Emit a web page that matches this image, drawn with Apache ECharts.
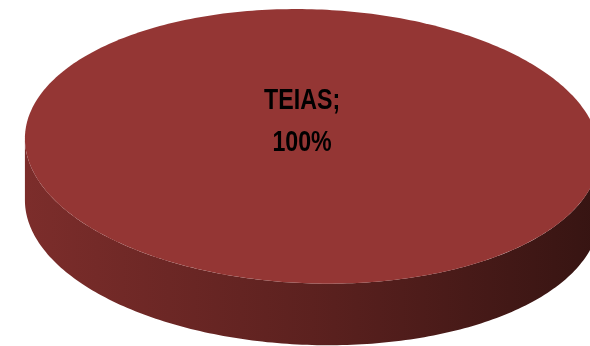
<!DOCTYPE html>
<html>
<head>
<meta charset="utf-8">
<script src="https://cdn.jsdelivr.net/npm/echarts@6/dist/echarts.min.js"></script>
<style>
html,body{margin:0;padding:0;background:#fff;}
#chart{width:590px;height:346px;}
</style>
</head>
<body>
<div id="chart"></div>
<script>
// ---- data ----
const categories = ['TEIAS'];
const values = [100];

// ---- styling ----
const topColor = '#943634';
const wallStops = [
  { offset: 0, color: '#7c2d2b' },
  { offset: 0.5, color: '#5c211f' },
  { offset: 1, color: '#361412' }
];

const chart = echarts.init(document.getElementById('chart'), null, { renderer: 'canvas' });
const total = values.reduce((a, b) => a + b, 0);

function renderItem(params, api) {
  const W = api.getWidth(), H = api.getHeight();
  const cx = W * 0.529, cy = H * 0.423;
  const rx = W * 0.487, ry = H * 0.396;
  const depth = H * 0.178;
  const phi = 2 * Math.PI / 180;
  const cP = Math.cos(phi), sP = Math.sin(phi);
  const i = params.dataIndex;
  let before = 0;
  for (let k = 0; k < i; k++) before += values[k];
  const v = api.value(0);
  const a0 = before / total * Math.PI * 2;
  const a1 = (before + v) / total * Math.PI * 2;
  const full = (a1 - a0) >= Math.PI * 2 - 1e-9;
  const N = 360;
  const pt = (t, d) => {
    const u = rx * Math.sin(t), w = -ry * Math.cos(t);
    return [cx + u * cP - w * sP, cy + u * sP + w * cP + (d || 0)];
  };

  // top face
  const topPts = [];
  if (!full) topPts.push([cx, cy]);
  const steps = Math.max(2, Math.ceil(N * (a1 - a0) / (Math.PI * 2)));
  for (let s = 0; s <= steps; s++) topPts.push(pt(a0 + (a1 - a0) * s / steps));

  // front wall between the horizontal extremes of the rotated ellipse
  const tR = Math.atan2(rx * cP, ry * sP);
  const tL = tR + Math.PI;
  const children = [];
  const w0 = Math.max(a0, tR), w1 = Math.min(a1, tL);
  if (w1 > w0) {
    const wp = [];
    const ws = Math.max(2, Math.ceil(N * (w1 - w0) / (Math.PI * 2)));
    for (let s = 0; s <= ws; s++) wp.push(pt(w0 + (w1 - w0) * s / ws));
    for (let s = ws; s >= 0; s--) wp.push(pt(w0 + (w1 - w0) * s / ws, depth));
    children.push({
      type: 'polygon',
      shape: { points: wp },
      style: {
        fill: new echarts.graphic.LinearGradient(cx - rx, 0, cx + rx, 0, wallStops, true)
      }
    });
  }
  children.push({
    type: 'polygon',
    shape: { points: topPts },
    style: { fill: topColor }
  });

  // label
  let lx, ly;
  if (full) { lx = cx - W * 0.017; ly = cy - H * 0.071; }
  else {
    const m = (a0 + a1) / 2;
    const p = pt(m); lx = (p[0] + cx) / 2; ly = (p[1] + cy) / 2;
  }
  const pct = Math.round(v / total * 100);
  children.push({
    type: 'text',
    x: lx, y: ly,
    scaleX: 0.8,
    style: {
      x: 0, y: 0,
      text: categories[i] + ';\n' + pct + '%',
      fill: '#000000',
      font: 'bold 29px "Liberation Sans", Arial, sans-serif',
      align: 'center',
      verticalAlign: 'middle',
      lineHeight: 42
    }
  });
  return { type: 'group', children: children };
}

chart.setOption({
  animation: false,
  series: [{
    type: 'custom',
    coordinateSystem: 'none',
    renderItem: renderItem,
    data: values.map((v, i) => ({ name: categories[i], value: [v] }))
  }]
});
</script>
</body>
</html>
